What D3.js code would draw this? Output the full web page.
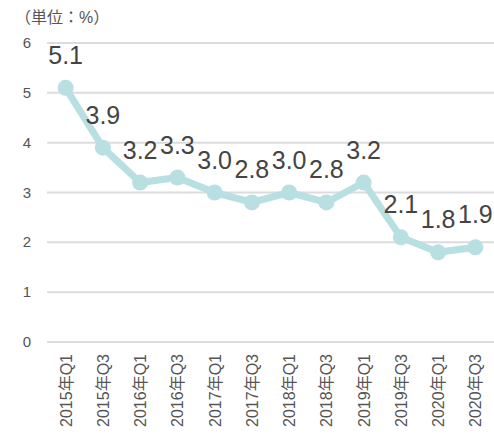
<!DOCTYPE html>
<html>
<head>
<meta charset="utf-8">
<script src="https://cdn.jsdelivr.net/npm/d3@7"></script>
<style>
body { margin: 0; background: #fff; }
svg text { font-family: "Liberation Sans", Arial, "Noto Sans CJK JP", sans-serif; }
</style>
</head>
<body>
<div id="chart"></div>
<script>
var categories = ["2015年Q1", "2015年Q3", "2016年Q1", "2016年Q3", "2017年Q1", "2017年Q3",
    "2018年Q1", "2018年Q3", "2019年Q1", "2019年Q3", "2020年Q1", "2020年Q3"];
var values = [5.1, 3.9, 3.2, 3.3, 3.0, 2.8, 3.0, 2.8, 3.2, 2.1, 1.8, 1.9];
var yTicks = [0, 1, 2, 3, 4, 5, 6];
var unitLabel = "（単位：%）";

var width = 494, height = 435;
var margin = {top: 43, right: 0, bottom: 93, left: 47};

var svg = d3.select("#chart").append("svg")
    .attr("width", width)
    .attr("height", height);

var x = d3.scaleBand()
    .domain(categories)
    .range([margin.left, width - margin.right]);

var y = d3.scaleLinear()
    .domain([0, 6])
    .range([height - margin.bottom, margin.top]);

// unit label
svg.append("text")
    .attr("x", 15)
    .attr("y", 23)
    .attr("font-size", 16)
    .attr("fill", "#555")
    .text(unitLabel);

// grid lines
svg.selectAll(".grid")
    .data(yTicks)
    .enter().append("line")
    .attr("class", "grid")
    .attr("x1", margin.left)
    .attr("x2", width)
    .attr("y1", function(d) { return y(d); })
    .attr("y2", function(d) { return y(d); })
    .attr("stroke", "#dcdcdc")
    .attr("stroke-width", 2);

// y tick labels
svg.selectAll(".ytick")
    .data(yTicks)
    .enter().append("text")
    .attr("class", "ytick")
    .attr("x", 31)
    .attr("y", function(d) { return y(d) + 5; })
    .attr("text-anchor", "end")
    .attr("font-size", 15)
    .attr("fill", "#555")
    .text(function(d) { return d; });

// x labels
svg.selectAll(".xlabel")
    .data(categories)
    .enter().append("text")
    .attr("class", "xlabel")
    .attr("transform", function(d) {
        return "translate(" + (x(d) + x.bandwidth() / 2 + 6) + "," + (height - margin.bottom + 12) + ") rotate(-90)";
    })
    .attr("text-anchor", "end")
    .attr("font-size", 16)
    .attr("fill", "#555")
    .text(function(d) { return d; });

var line = d3.line()
    .x(function(d, i) { return x(categories[i]) + x.bandwidth() / 2; })
    .y(function(d) { return y(d); });

svg.append("path")
    .datum(values)
    .attr("d", line)
    .attr("fill", "none")
    .attr("stroke", "#b8dfe2")
    .attr("stroke-width", 7)
    .attr("stroke-linejoin", "round");

svg.selectAll(".dot")
    .data(values)
    .enter().append("circle")
    .attr("class", "dot")
    .attr("cx", function(d, i) { return x(categories[i]) + x.bandwidth() / 2; })
    .attr("cy", function(d) { return y(d); })
    .attr("r", 8)
    .attr("fill", "#b8dfe2");

svg.selectAll(".vlabel")
    .data(values)
    .enter().append("text")
    .attr("class", "vlabel")
    .attr("x", function(d, i) { return x(categories[i]) + x.bandwidth() / 2; })
    .attr("y", function(d) { return y(d) - 24; })
    .attr("text-anchor", "middle")
    .attr("font-size", 25)
    .attr("fill", "#444")
    .text(function(d) { return d.toFixed(1); });
</script>
</body>
</html>
